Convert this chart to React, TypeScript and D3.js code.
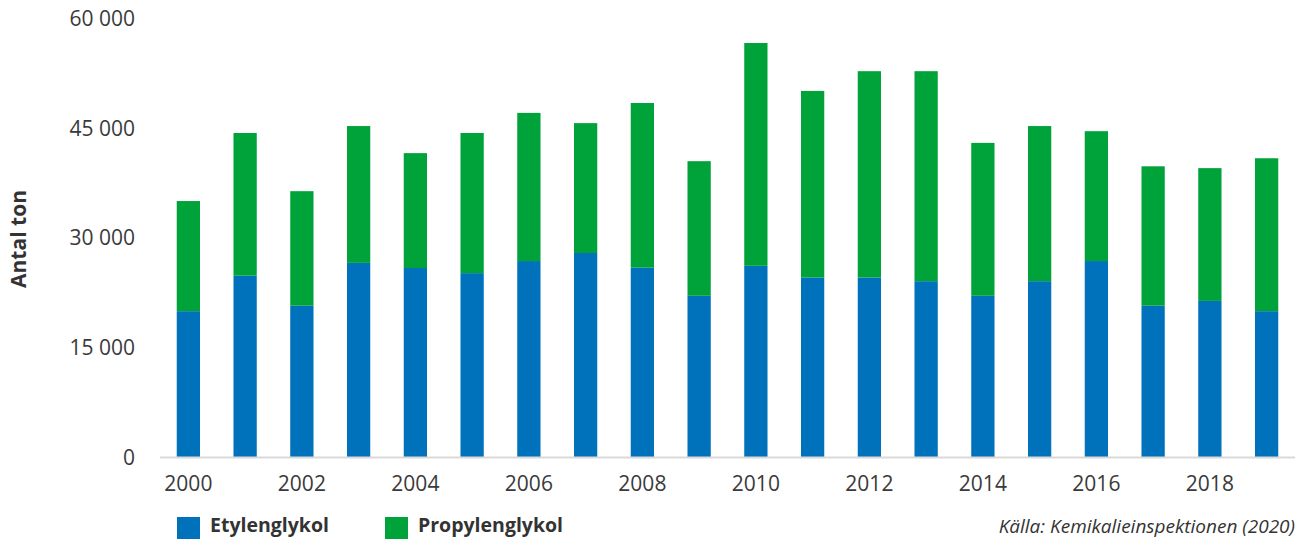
import React from "react";
import * as d3 from "d3";

const years = ["2000","2001","2002","2003","2004","2005","2006","2007","2008","2009","2010","2011","2012","2013","2014","2015","2016","2017","2018","2019"];
const etylenglykol = [20000,24850,20750,26600,25900,25200,26850,27950,25950,22100,26200,24600,24600,24100,22100,24100,26850,20750,21400,20000];
const totals = [35050,44350,36400,45300,41600,44350,47100,45700,48450,40500,56650,50100,52800,52800,43000,45300,44600,39800,39550,40900];
const propylenglykol = totals.map((t, i) => t - etylenglykol[i]);
const yTicks = [0, 15000, 30000, 45000, 60000];
const xTickYears = ["2000","2002","2004","2006","2008","2010","2012","2014","2016","2018"];
const seriesNames = ["Etylenglykol", "Propylenglykol"];
const colors = ["#0072bc", "#00a339"];

const W = 1298, H = 539;
const FONT = "'Open Sans', 'Noto Sans', sans-serif";

export default function App() {
  const x = d3.scaleBand<string>().domain(years).range([160, 1295]).paddingInner(0.59).paddingOuter(0.295);
  const y = d3.scaleLinear().domain([0, 60000]).range([457.5, 18.5]);
  const fmt = (v: number) => d3.format(",")(v).replace(/,/g, " ");
  const stackData = years.map((yr, i) => ({ year: yr, Etylenglykol: etylenglykol[i], Propylenglykol: propylenglykol[i] }));
  const stacked = d3.stack<any>().keys(seriesNames)(stackData);

  return (
    <svg width={W} height={H} style={{ position: "absolute", left: 0, top: 0, display: "block" }} fontFamily={FONT}>
      <rect width={W} height={H} fill="#fff" />
      {stacked.map((s, si) => (
        <g key={s.key} fill={colors[si]}>
          {s.map((d: any) => (
            <rect key={d.data.year} x={x(d.data.year)} width={x.bandwidth()} y={y(d[1])} height={y(d[0]) - y(d[1])} />
          ))}
        </g>
      ))}
      <line x1={160} x2={1295} y1={457.5} y2={457.5} stroke="#d9d9d9" strokeWidth={2} />
      {yTicks.map((t) => (
        <text key={t} x={135} y={y(t)} dy="0.35em" textAnchor="end" fontSize={21} fill="#3a3a3a">{fmt(t)}</text>
      ))}
      {xTickYears.map((yr) => (
        <text key={yr} x={(x(yr) as number) + x.bandwidth() / 2} y={484} dy="0.35em" textAnchor="middle" fontSize={21} fill="#3a3a3a">{yr}</text>
      ))}
      <text transform="translate(26,239) rotate(-90)" textAnchor="middle" fontSize={21} fontWeight="bold" fill="#333">Antal ton</text>
      {seriesNames.map((n, i) => {
        const lx = i === 0 ? 177 : 385;
        return (
          <g key={n}>
            <rect x={lx} y={517} width={23} height={22} fill={colors[i]} />
            <text x={lx + 33} y={525} dy="0.35em" fontSize={19.5} fontWeight="bold" fill="#333">{n}</text>
          </g>
        );
      })}
      <text x={1295} y={526} dy="0.35em" textAnchor="end" fontSize={19} fontStyle="italic" fill="#333">Källa: Kemikalieinspektionen (2020)</text>
    </svg>
  );
}
